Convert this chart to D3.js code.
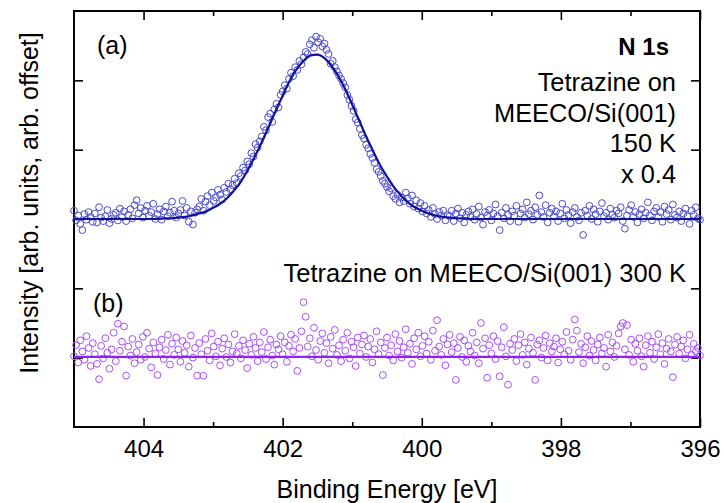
<!DOCTYPE html>
<html>
<head>
<meta charset="utf-8">
<script src="https://cdn.jsdelivr.net/npm/d3@7"></script>
<style>
  body { margin: 0; background: #fff; }
  svg text { font-family: "Liberation Sans", Arial, sans-serif; fill: #000; }
</style>
</head>
<body>
<div class="xps-plot"></div>
<script>
// energy grid of the measured points (eV), 405 -> 396
const eStart = 405;
const eStep = 0.03;

// (a) Tetrazine on MEECO/Si(001) 150 K, x 0.4 (arb. offset)
const valuesA = [
  3.12, 2.98, 3.05, 2.93, 2.84, 3.07, 2.99, 3.10, 3.03, 2.96,
  3.08, 2.95, 3.17, 3.02, 2.97, 3.04, 3.13, 2.94, 3.00, 3.06,
  3.09, 2.98, 3.15, 3.03, 3.11, 2.97, 3.06, 3.14, 3.01, 3.20,
  3.27, 3.08, 3.16, 3.02, 3.12, 3.19, 3.05, 3.10, 3.22, 3.00,
  3.07, 3.14, 2.99, 3.11, 3.18, 3.04, 3.09, 3.25, 3.12, 3.02,
  3.08, 3.13, 3.26, 3.05, 3.16, 2.96, 3.11, 2.92, 3.09, 3.14,
  3.18, 3.29, 3.12, 3.25, 3.33, 3.20, 3.38, 3.26, 3.31, 3.42,
  3.35, 3.28, 3.45, 3.39, 3.51, 3.43, 3.49, 3.58, 3.52, 3.66,
  3.62, 3.74, 3.70, 3.83, 3.79, 3.95, 3.90, 4.08, 4.03, 4.12,
  4.19, 4.33, 4.28, 4.47, 4.52, 4.40, 4.58, 4.66, 4.61, 4.79,
  4.84, 4.93, 4.88, 5.02, 5.11, 5.06, 5.19, 5.15, 5.28, 5.23,
  5.33, 5.41, 5.38, 5.52, 5.58, 5.47, 5.63, 5.55, 5.60, 5.49,
  5.53, 5.44, 5.38, 5.24, 5.28, 5.19, 5.13, 5.07, 5.02, 4.96,
  4.90, 4.79, 4.72, 4.63, 4.56, 4.44, 4.39, 4.30, 4.21, 4.16,
  4.07, 4.02, 3.94, 3.88, 3.81, 3.72, 3.68, 3.62, 3.55, 3.51,
  3.46, 3.40, 3.44, 3.33, 3.29, 3.35, 3.24, 3.31, 3.26, 3.38,
  3.30, 3.22, 3.34, 3.18, 3.27, 3.15, 3.23, 3.11, 3.19, 3.08,
  3.13, 3.03, 3.16, 3.07, 3.00, 3.10, 3.05, 3.12, 2.98, 3.06,
  3.04, 3.12, 2.97, 3.08, 3.15, 3.01, 3.09, 2.95, 3.06, 3.11,
  3.03, 3.14, 2.99, 3.07, 3.18, 3.02, 2.92, 3.10, 3.05, 3.13,
  2.98, 3.08, 3.21, 3.04, 2.84, 3.09, 3.01, 3.16, 3.06, 2.97,
  3.11, 3.05, 3.19, 2.96, 3.08, 3.14, 3.02, 3.24, 3.07, 3.12,
  2.99, 3.17, 3.06, 3.34, 3.10, 3.03, 3.20, 2.95, 3.09, 3.15,
  3.04, 3.11, 2.97, 3.08, 3.22, 3.01, 3.13, 3.06, 2.94, 3.10,
  3.16, 3.03, 2.98, 3.09, 2.77, 3.12, 3.05, 3.19, 3.00, 3.14,
  3.07, 2.96, 3.11, 3.23, 3.04, 3.09, 2.99, 3.15, 3.06, 3.02,
  3.12, 3.08, 3.17, 2.97, 2.86, 3.05, 3.13, 3.20, 3.03, 3.10,
  2.95, 3.07, 3.14, 3.01, 3.09, 3.24, 3.05, 2.98, 3.11, 3.16,
  3.03, 3.10, 2.96, 3.18, 3.07, 3.13, 2.99, 3.21, 3.06, 3.02,
  3.11, 2.97, 3.08, 3.15, 3.04, 2.93, 3.12, 3.06, 3.17, 3.01, 2.99
];

// (b) Tetrazine on MEECO/Si(001) 300 K
const valuesB = [
  1.02, 1.18, 0.93, 1.25, 1.09, 0.97, 1.31, 1.14, 0.88, 1.21,
  1.05, 0.91, 0.69, 1.17, 0.99, 1.28, 1.07, 0.84, 1.12, 1.36,
  0.95, 1.49, 1.10, 1.23, 1.45, 0.74, 1.16, 1.03, 1.27, 0.92,
  1.08, 1.19, 0.97, 1.30, 1.01, 1.36, 1.13, 0.86, 1.22, 1.06,
  0.75, 1.15, 1.26, 0.98, 1.11, 1.33, 0.90, 1.20, 1.04, 1.29,
  1.12, 0.94, 1.24, 1.07, 1.18, 0.87, 1.32, 1.00, 1.14, 0.74,
  1.21, 1.05, 0.74, 1.27, 1.10, 0.96, 1.35, 1.16, 1.02, 1.23,
  0.89, 1.13, 1.28, 1.01, 1.19, 0.93, 1.09, 1.34, 1.06, 1.17,
  0.99, 1.25, 1.11, 0.85, 1.20, 1.04, 1.30, 1.14, 0.95, 1.22,
  1.08, 1.37, 0.98, 1.15, 1.26, 1.03, 0.90, 1.19, 1.12, 1.31,
  1.05, 1.22, 0.94, 1.17, 1.33, 1.09, 1.27, 0.81, 1.14, 1.38,
  1.80, 1.59, 1.16, 1.28, 1.02, 1.43, 1.11, 0.97, 1.24, 1.35,
  1.07, 1.21, 0.92, 1.30, 1.13, 1.40, 1.04, 1.18, 0.95, 1.26,
  1.10, 1.36, 0.99, 1.23, 1.15, 0.88, 1.29, 1.06, 1.19, 1.32,
  1.01, 1.16, 1.27, 0.93, 1.12, 1.38, 1.05, 1.22, 0.75, 1.14,
  1.29, 1.03, 1.18, 0.96, 1.34, 1.09, 1.24, 1.00, 1.15, 1.41,
  1.07, 1.20, 0.91, 1.28, 1.12, 1.36, 1.02, 1.17, 1.31, 1.06,
  1.23, 0.97, 1.39, 1.10, 1.54, 1.16, 1.04, 1.27, 0.89, 1.19,
  1.33, 1.08, 1.21, 0.68, 1.14, 1.30, 1.01, 1.25, 0.94, 1.17,
  1.09, 1.36, 1.03, 1.22, 0.92, 1.50, 1.13, 1.28, 0.71, 1.18,
  1.06, 1.31, 0.98, 1.24, 0.73, 1.15, 1.44, 1.02, 0.61, 1.20,
  1.11, 1.27, 0.95, 1.18, 1.34, 1.04, 1.22, 0.90, 1.13, 1.29,
  1.07, 0.68, 1.19, 1.25, 1.00, 1.14, 1.32, 0.96, 1.21, 1.09,
  1.16, 1.28, 0.93, 1.12, 1.23, 1.05, 1.37, 1.10, 0.97, 1.26,
  1.55, 1.39, 1.08, 1.20, 0.92, 1.15, 1.31, 1.03, 1.24, 1.11,
  0.96, 1.19, 1.29, 1.06, 1.14, 0.87, 1.33, 1.09, 1.22, 1.01,
  1.17, 1.35, 1.45, 1.50, 1.12, 1.47, 1.04, 1.26, 0.94, 1.20,
  1.10, 1.28, 1.02, 0.87, 1.18, 1.31, 1.07, 1.23, 0.98, 1.15,
  1.34, 1.05, 1.21, 0.91, 1.13, 1.27, 1.09, 0.72, 1.19, 1.30,
  1.06, 1.16, 1.25, 0.99, 1.12, 1.33, 1.04, 1.20, 1.09, 1.14, 1.03
];

// fit curve of (a), read every 0.1 eV from 405 to 396
const fitStep = 0.1;
const fitA = [
  3.00, 3.00, 3.00, 3.00, 3.00, 3.00, 3.00, 3.00, 3.00, 3.00,
  3.00, 3.00, 3.00, 3.01, 3.01, 3.02, 3.03, 3.05, 3.08, 3.11,
  3.16, 3.22, 3.30, 3.41, 3.54, 3.71, 3.90, 4.11, 4.33, 4.56,
  4.78, 4.99, 5.16, 5.28, 5.36, 5.37, 5.32, 5.21, 5.06, 4.87,
  4.65, 4.42, 4.19, 3.98, 3.78, 3.61, 3.46, 3.34, 3.24, 3.17,
  3.12, 3.08, 3.05, 3.03, 3.02, 3.01, 3.01, 3.00, 3.00, 3.00,
  3.00, 3.00, 3.00, 3.00, 3.00, 3.00, 3.00, 3.00, 3.00, 3.00,
  3.00, 3.00, 3.00, 3.00, 3.00, 3.00, 3.00, 3.00, 3.00, 3.00,
  3.00, 3.00, 3.00, 3.00, 3.00, 3.00, 3.00, 3.00, 3.00, 3.00, 3.00
];

// fit line of (b): flat
const fitBEnergy = [405, 396];
const fitB = [1.01, 1.01];

const majorTicks = [404, 402, 400, 398, 396];
const minorTicks = [403, 401, 399, 397];
const yTicks = [1, 2, 3, 4, 5];

//construct svg element
const w = 724;
const h = 503;
const plotLeft = 74, plotRight = 700, plotTop = 11, plotBottom = 427;

const svg = d3.select('.xps-plot')
                .append('svg')
                .attr('width', w)
                .attr('height', h);

const x = d3.scaleLinear().domain([405, 396]).range([plotLeft, plotRight]);
const y = d3.scaleLinear().domain([0, 6]).range([plotBottom, plotTop]);

const pointsA = valuesA.map((v, i) => ({e: eStart - i * eStep, v: v}));
const pointsB = valuesB.map((v, i) => ({e: eStart - i * eStep, v: v}));
const lineA = fitA.map((v, i) => ({e: eStart - i * fitStep, v: v}));
const lineB = fitB.map((v, i) => ({e: fitBEnergy[i], v: v}));

//axes, all ticks pointing inward
const axisB = svg.append('g').attr('transform', `translate(0,${plotBottom})`)
    .call(d3.axisBottom(x).tickValues(majorTicks).tickSizeInner(-9).tickSizeOuter(0)
          .tickPadding(13).tickFormat(d3.format('d')));
svg.append('g').attr('transform', `translate(0,${plotBottom})`)
    .call(d3.axisBottom(x).tickValues(minorTicks).tickSizeInner(-5).tickSizeOuter(0).tickFormat(''));
svg.append('g').attr('transform', `translate(0,${plotTop})`)
    .call(d3.axisTop(x).tickValues(majorTicks).tickSizeInner(-9).tickSizeOuter(0).tickFormat(''));
svg.append('g').attr('transform', `translate(0,${plotTop})`)
    .call(d3.axisTop(x).tickValues(minorTicks).tickSizeInner(-5).tickSizeOuter(0).tickFormat(''));
svg.append('g').attr('transform', `translate(${plotLeft},0)`)
    .call(d3.axisLeft(y).tickValues(yTicks).tickSizeInner(-9).tickSizeOuter(0).tickFormat(''));
svg.append('g').attr('transform', `translate(${plotRight},0)`)
    .call(d3.axisRight(y).tickValues(yTicks).tickSizeInner(-9).tickSizeOuter(0).tickFormat(''));

svg.selectAll('.domain').remove();
svg.selectAll('.tick line').attr('stroke', '#000').attr('stroke-width', 1.6);
axisB.selectAll('text')
    .attr('font-size', 24)
    .attr('font-family', '"Liberation Sans", Arial, sans-serif')
    .attr('fill', '#000');

//frame
svg.append('rect')
    .attr('x', plotLeft)
    .attr('y', plotTop)
    .attr('width', plotRight - plotLeft)
    .attr('height', plotBottom - plotTop)
    .attr('fill', 'none')
    .attr('stroke', '#000')
    .attr('stroke-width', 2);

//data points
svg.selectAll('circle.a')
    .data(pointsA)
    .enter()
    .append('circle')
    .attr('class', 'a')
    .attr('cx', d => x(d.e))
    .attr('cy', d => y(d.v))
    .attr('r', 3.4)
    .attr('fill', 'none')
    .attr('stroke', '#4a4ad0')
    .attr('stroke-width', 1);

svg.selectAll('circle.b')
    .data(pointsB)
    .enter()
    .append('circle')
    .attr('class', 'b')
    .attr('cx', d => x(d.e))
    .attr('cy', d => y(d.v))
    .attr('r', 3.4)
    .attr('fill', 'none')
    .attr('stroke', '#a64dff')
    .attr('stroke-width', 1);

//fit lines
const line = d3.line().x(d => x(d.e)).y(d => y(d.v)).curve(d3.curveMonotoneX);

svg.append('path')
    .datum(lineA)
    .attr('d', line)
    .attr('fill', 'none')
    .attr('stroke', '#10129a')
    .attr('stroke-width', 2.2);

svg.append('path')
    .datum(lineB)
    .attr('d', line)
    .attr('fill', 'none')
    .attr('stroke', '#8f22f0')
    .attr('stroke-width', 2.2);

//labels
svg.append('text')
    .text('Binding Energy [eV]')
    .attr('x', (plotLeft + plotRight) / 2)
    .attr('y', 498)
    .attr('text-anchor', 'middle')
    .attr('font-size', 25);

svg.append('text')
    .text('Intensity [arb. units, arb. offset]')
    .attr('transform', 'translate(38,203) rotate(-90)')
    .attr('text-anchor', 'middle')
    .attr('font-size', 25);

svg.append('text').text('(a)').attr('x', 97).attr('y', 54).attr('font-size', 25);
svg.append('text').text('(b)').attr('x', 93).attr('y', 312).attr('font-size', 25);

svg.append('text')
    .text('N 1s')
    .attr('x', 669)
    .attr('y', 55)
    .attr('text-anchor', 'end')
    .attr('font-size', 24)
    .attr('font-weight', 'bold');

const noteA = ['Tetrazine on', 'MEECO/Si(001)', '150 K', 'x 0.4'];
const noteY = [91, 122, 152, 183];
svg.selectAll('text.note')
    .data(noteA)
    .enter()
    .append('text')
    .attr('class', 'note')
    .text(d => d)
    .attr('x', 676)
    .attr('y', (d, i) => noteY[i])
    .attr('text-anchor', 'end')
    .attr('font-size', 25.4);

svg.append('text')
    .text('Tetrazine on MEECO/Si(001) 300 K')
    .attr('x', 686)
    .attr('y', 282)
    .attr('text-anchor', 'end')
    .attr('font-size', 25.5);
</script>
</body>
</html>
